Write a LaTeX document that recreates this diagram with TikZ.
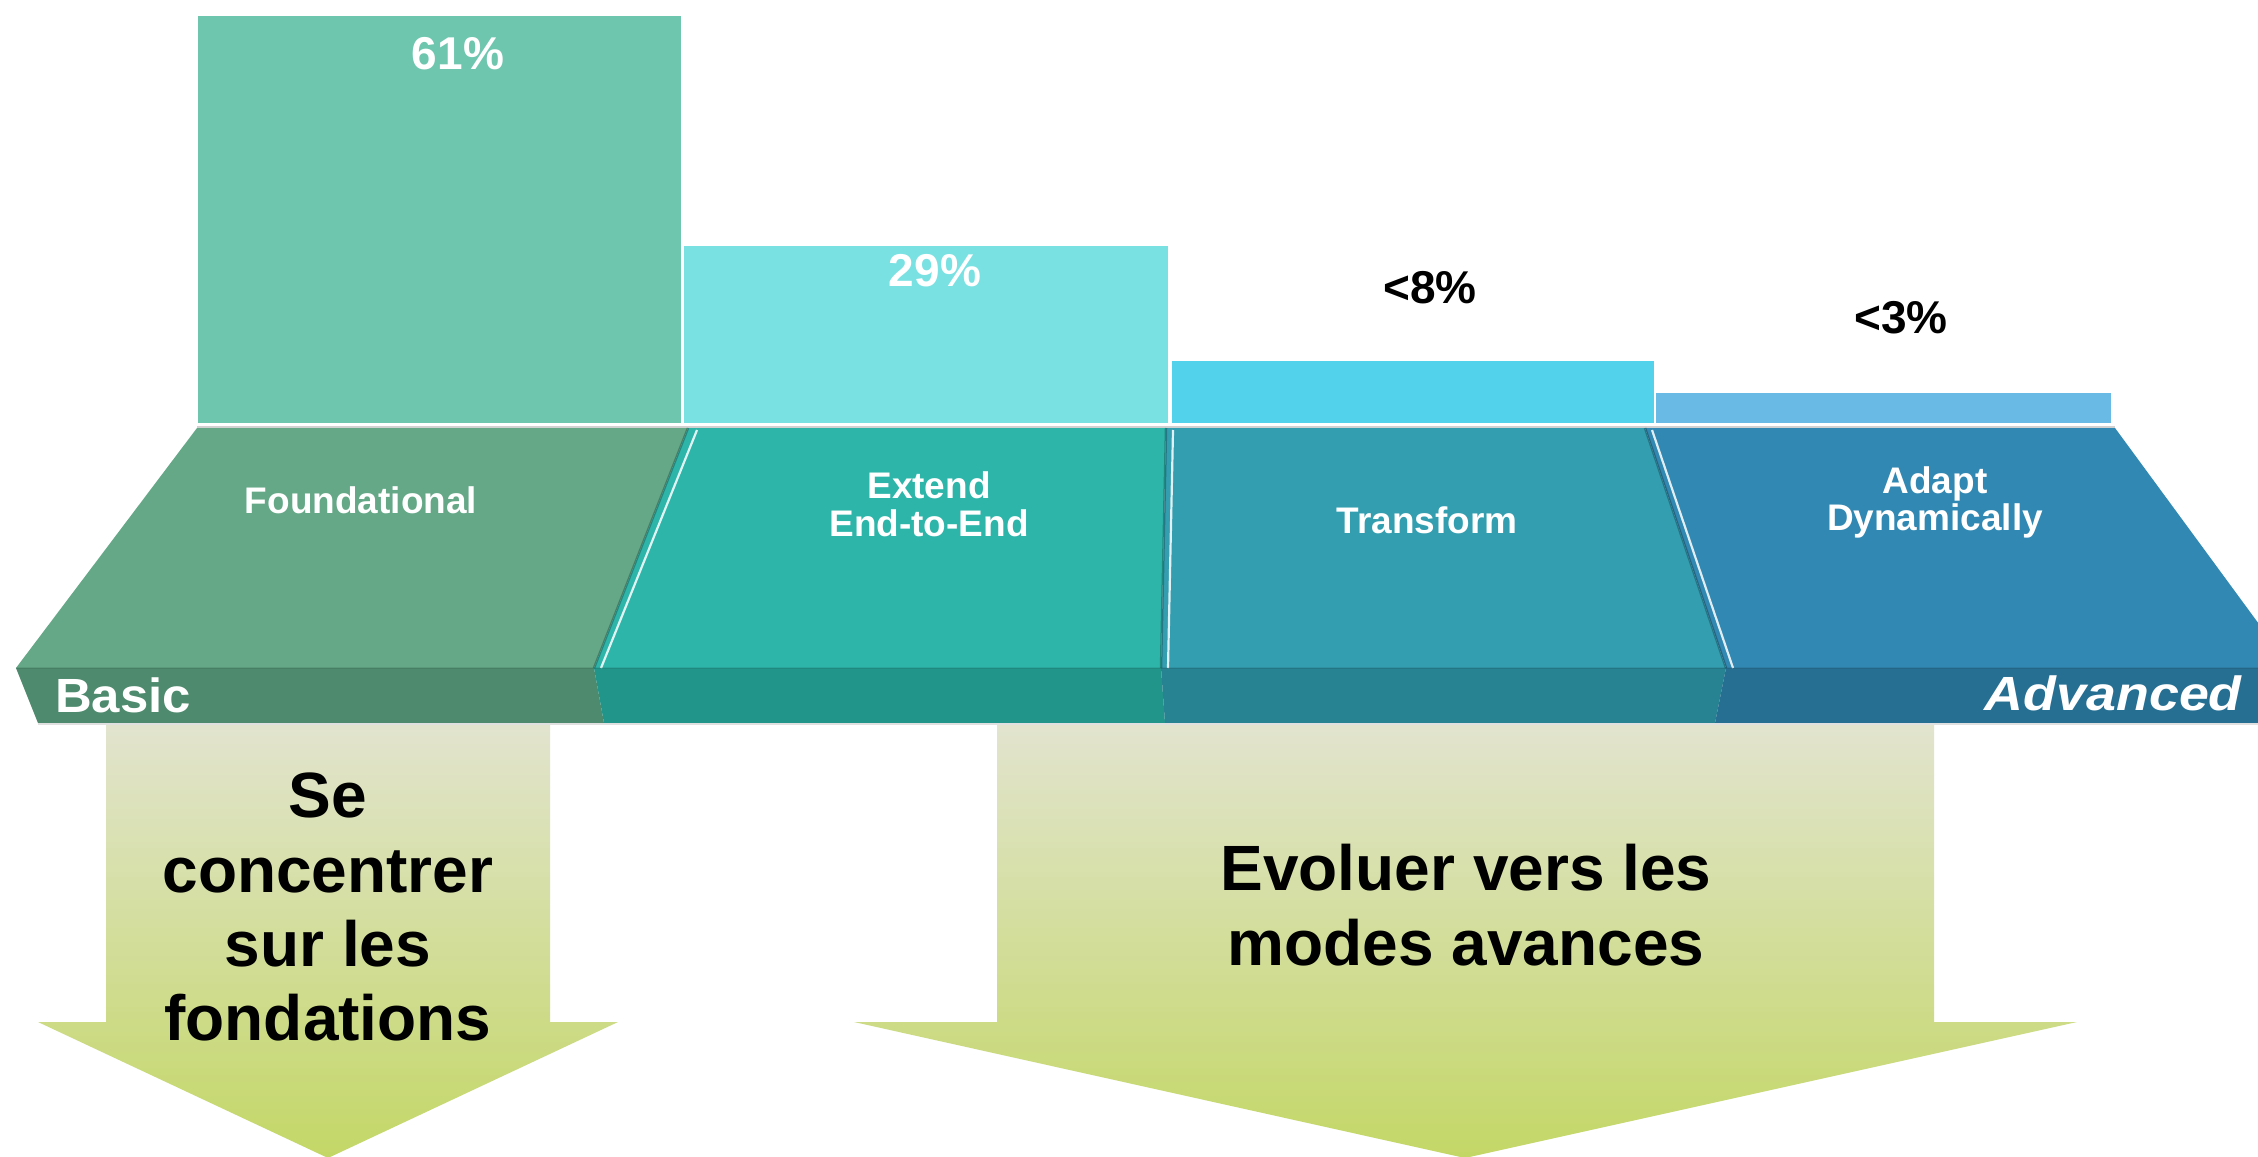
\documentclass[tikz,border=0pt]{standalone}
\usepackage{fontspec}
\setmainfont{Liberation Sans}
\usepackage{graphicx}
\definecolor{barA}{HTML}{6FC6AF}
\definecolor{barB}{HTML}{7AE1E3}
\definecolor{barC}{HTML}{53D3EB}
\definecolor{barD}{HTML}{6ABAE6}
\definecolor{topA}{HTML}{64A887}
\definecolor{topB}{HTML}{2EB5AA}
\definecolor{topC}{HTML}{339EB0}
\definecolor{topD}{HTML}{3188B2}
\definecolor{frA}{HTML}{4E8A6D}
\definecolor{frB}{HTML}{22958B}
\definecolor{frC}{HTML}{278291}
\definecolor{frD}{HTML}{266F92}
\definecolor{arrTop}{HTML}{E2E4CE}
\definecolor{arrBot}{HTML}{C3D766}
\tikzset{
  pct/.style={anchor=base, inner sep=0pt, font=\bfseries\fontsize{46}{50}\selectfont},
  seglbl/.style={anchor=base, inner sep=0pt, text=white, font=\bfseries\fontsize{37}{40}\selectfont},
  endlbl/.style={anchor=base, inner sep=0pt, text=white, font=\bfseries\fontsize{48}{52}\selectfont},
  arrlbl/.style={anchor=base, inner sep=0pt, text=black, font=\bfseries\fontsize{64}{70}\selectfont},
  darkedge/.style={draw=black, draw opacity=0.25, line width=2.5pt},
  hiedge/.style={draw=white, draw opacity=0.85, line width=2.2pt},
  arrowshape/.style={top color=arrTop, bottom color=arrBot}
}
\begin{document}
\begin{tikzpicture}[x=1pt,y=-1pt]
\useasboundingbox (0,0) rectangle (2258,1156);
\fill[white] (0,0) rectangle (2258,1156);
\begin{scope}
\clip (0,0) rectangle (2258,1156);
% bars
\fill[barA] (198,16) rectangle (681,423);
\fill[barB] (684,246) rectangle (1168,423);
\fill[barC] (1172,361) rectangle (1654,423);
\fill[barD] (1656,393) rectangle (2111,423);
% slab top line
\draw[black!18, line width=2pt] (197,427) -- (2115,427);
% slab top faces
\fill[topA] (197,428) -- (688,428) -- (594,668) -- (16,668) -- cycle;
\fill[topB] (688,428) -- (1166,428) -- (1161,668) -- (594,668) -- cycle;
\fill[topC] (1166,428) -- (1645,428) -- (1726,668) -- (1161,668) -- cycle;
\fill[topD] (1645,428) -- (2115,428) -- (2300,680) -- (2300,668) -- (1726,668) -- cycle;
% slab front faces
\fill[frA] (16,668) -- (594,668) -- (604,723) -- (38,723) -- cycle;
\fill[frB] (594,668) -- (1161,668) -- (1165,723) -- (604,723) -- cycle;
\fill[frC] (1161,668) -- (1726,668) -- (1715,723) -- (1165,723) -- cycle;
\fill[frD] (1726,668) -- (2300,668) -- (2300,723) -- (1715,723) -- cycle;
% divider effects
\path[darkedge] (688,428) -- (594,668);
\path[hiedge] (697,430) -- (601,668);
\path[darkedge] (1166,428) -- (1161,668);
\path[hiedge] (1173,430) -- (1168,668);
\path[darkedge] (1645,428) -- (1726,668);
\path[hiedge] (1652,430) -- (1733,668);
\draw[black, opacity=0.08, line width=1.5pt] (16,668) -- (2258,668);
\draw[black!12, line width=1.5pt] (38,724) -- (2258,724);
% arrows
\shade[arrowshape] (106,725) -- (550,725) -- (550,1022) -- (618,1022) -- (328,1158) -- (38,1022) -- (106,1022) -- cycle;
\shade[arrowshape] (997,725) -- (1934,725) -- (1934,1022) -- (2077,1022) -- (1465,1158) -- (854,1022) -- (997,1022) -- cycle;
\end{scope}
% percentages
\node[pct, text=white] (p61) at (458,70) {61\%};
\node[pct, text=white] (p29) at (935,286) {29\%};
\node[pct, text=black] (p8) at (1430,303) {<8\%};
\node[pct, text=black] (p3) at (1901,333) {<3\%};
% segment labels
\node[seglbl] (found) at (361,513) {Foundational};
\node[seglbl] (ext1) at (929,498) {Extend};
\node[seglbl] (ext2) at (929,536) {End-to-End};
\node[seglbl] (trans) at (1427,533) {Transform};
\node[seglbl] (adapt1) at (1935,493) {Adapt};
\node[seglbl] (adapt2) at (1935,530) {Dynamically};
\node[endlbl, anchor=base west] (basic) at (55,712) {\scalebox{1.06}[1]{Basic}};
\node[endlbl, anchor=base east] (adv) at (2242,710) {\itshape\scalebox{1.12}[1]{Advanced}};
% arrow labels
\node[arrlbl] (l1) at (328,817) {Se};
\node[arrlbl] (l2) at (328,892) {concentrer};
\node[arrlbl] (l3) at (328,966) {sur les};
\node[arrlbl] (l4) at (328,1040) {fondations};
\node[arrlbl] (r1) at (1466,890) {Evoluer vers les};
\node[arrlbl] (r2) at (1466,965) {modes avances};
\end{tikzpicture}
\end{document}
